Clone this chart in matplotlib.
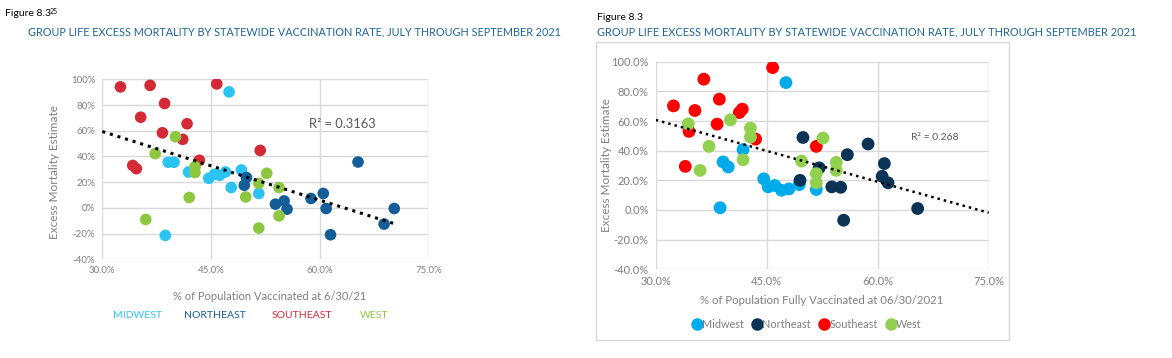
import matplotlib
matplotlib.use("Agg")
import matplotlib.pyplot as plt
from matplotlib.lines import Line2D
from matplotlib.patches import Rectangle
import numpy as np

plt.rcParams['font.family'] = ['Lato', 'DejaVu Sans']

W, H = 1172, 358

# ---- left chart data (% vaccinated, excess mortality %) ----
left_midwest_x = [47.5, 39.1, 39.9, 41.9, 44.7, 45.5, 46.2, 47.0, 49.2, 47.8, 51.6, 38.7]
left_midwest_y = [90.2, 35.5, 35.5, 27.9, 23.0, 26.1, 25.3, 27.9, 29.5, 15.8, 11.2, -21.4]
left_northeast_x = [49.9, 49.6, 53.9, 55.1, 55.5, 58.8, 60.5, 60.9, 61.5, 65.3, 68.9, 70.3]
left_northeast_y = [23.6, 17.6, 2.9, 5.4, -1.0, 7.3, 11.2, -0.5, -20.9, 35.7, -12.6, -0.5]
left_southeast_x = [32.5, 36.6, 45.8, 38.6, 35.3, 41.7, 38.3, 41.1, 43.4, 34.2, 34.7, 51.8]
left_southeast_y = [94.1, 95.3, 96.4, 81.2, 70.5, 65.4, 58.4, 53.3, 37.0, 33.0, 30.5, 44.7]
left_west_x = [40.1, 37.3, 42.8, 42.8, 52.7, 51.6, 49.8, 54.4, 54.4, 51.6, 42.0, 36.0]
left_west_y = [55.3, 42.2, 32.0, 27.5, 26.9, 19.1, 8.5, 15.8, -6.2, -15.7, 8.1, -9.0]

# ---- right chart data ----
right_midwest_x = [47.6, 41.8, 39.1, 39.8, 38.7, 44.6, 45.2, 46.1, 47.0, 48.0, 49.4, 51.7]
right_midwest_y = [85.9, 40.7, 32.4, 29.0, 1.5, 21.0, 15.6, 16.5, 13.3, 14.2, 17.1, 13.8]
right_northeast_x = [49.5, 49.9, 52.1, 55.9, 53.8, 55.0, 55.4, 58.7, 60.9, 60.6, 61.4, 65.4]
right_northeast_y = [20.0, 48.9, 28.4, 37.3, 15.6, 15.3, -6.9, 44.5, 31.3, 22.7, 18.3, 1.0]
right_southeast_x = [45.8, 36.5, 32.4, 35.3, 38.6, 41.3, 41.7, 38.3, 34.5, 43.5, 34.0, 51.7]
right_southeast_y = [96.0, 88.2, 70.2, 67.1, 74.7, 65.7, 68.0, 57.9, 53.0, 47.8, 29.4, 42.9]
right_west_x = [34.4, 40.1, 42.8, 42.8, 37.2, 41.8, 36.0, 52.6, 49.7, 54.4, 54.4, 51.7, 51.7]
right_west_y = [58.1, 60.8, 55.2, 49.2, 42.9, 33.9, 26.7, 48.5, 33.0, 32.1, 26.7, 24.5, 18.3]

regions = ["Midwest", "Northeast", "Southeast", "West"]
left_colors = ["#2BC3F2", "#135E99", "#D32A35", "#8DC63F"]
right_colors = ["#00ABEB", "#0B3356", "#FF0000", "#92D050"]

title_text = "GROUP LIFE EXCESS MORTALITY BY STATEWIDE VACCINATION RATE, JULY THROUGH SEPTEMBER 2021"
title_color = "#1F6597"
grid_color = "#D9D9D9"
tick_color = "#7F7F7F"


def rect(x0, y0, x1, y1):
    return [x0 / W, 1 - y1 / H, (x1 - x0) / W, (y1 - y0) / H]


def style_axes(ax, fmt, size):
    ax.set_xlim(30, 75)
    ax.set_ylim(-40, 100)
    ax.set_xticks([30, 45, 60, 75])
    ax.set_yticks(range(-40, 101, 20))
    ax.set_xticklabels(["30.0%", "45.0%", "60.0%", "75.0%"])
    ax.set_yticklabels([fmt.format(v) for v in range(-40, 101, 20)])
    for s in ax.spines.values():
        s.set_visible(False)
    ax.grid(True, color=grid_color, linewidth=1)
    ax.set_axisbelow(True)
    ax.tick_params(length=0, labelsize=size, labelcolor=tick_color, pad=5)


fig = plt.figure(figsize=(W / 100, H / 100), dpi=100)

# ---------- left ----------
fig.text(5 / W, 1 - 14 / H, "Figure 8.3", fontsize=7.5, va="center", color="black")
fig.text(50 / W, 1 - 11 / H, "25", fontsize=5, va="center", color="black")
fig.text(28 / W, 1 - 32 / H, title_text, fontsize=7.8, va="center", color=title_color)

ax1 = fig.add_axes(rect(102.3, 79.3, 428.3, 259.3))
style_axes(ax1, "{}%", 7)
lx = [left_midwest_x, left_northeast_x, left_southeast_x, left_west_x]
ly = [left_midwest_y, left_northeast_y, left_southeast_y, left_west_y]
for xs, ys, c in zip(lx, ly, left_colors):
    ax1.scatter(xs, ys, s=70, color=c, edgecolors="none", zorder=3)
all_x = np.concatenate(lx)
all_y = np.concatenate(ly)
m, b = np.polyfit(all_x, all_y, 1)
tx = np.array([30, all_x.max()])
ax1.plot(tx, m * tx + b, color="black", linestyle=(0, (1, 1.6)), linewidth=2.2, zorder=4)
ax1.text(58.6, 65, "R\u00b2 = 0.3163", fontsize=9.3, color="#595959", va="center")
fig.text(55 / W, 1 - 172 / H, "Excess Mortality Estimate", rotation=90, fontsize=8.5,
         color=tick_color, ha="center", va="center")
fig.text(270 / W, 1 - 297 / H, "% of Population Vaccinated at 6/30/21", fontsize=8,
         color=tick_color, ha="center", va="center")
for xpos, name, c in zip([113, 184, 272, 360], regions, left_colors):
    fig.text(xpos / W, 1 - 316 / H, name.upper(), fontsize=7.5, color=c, va="center")

# ---------- right ----------
fig.text(597 / W, 1 - 17 / H, "Figure 8.3", fontsize=7.5, va="center", color="black")
fig.text(597 / W, 1 - 32 / H, title_text, fontsize=7.9, va="center", color=title_color)
fig.patches.append(Rectangle((596 / W, 1 - 340 / H), (1009 - 596) / W, (340 - 42) / H,
                             transform=fig.transFigure, fill=False, edgecolor=grid_color,
                             linewidth=1))

ax2 = fig.add_axes(rect(655.7, 61.7, 988.7, 269.3))
style_axes(ax2, "{:.1f}%", 8)
rx = [right_midwest_x, right_northeast_x, right_southeast_x, right_west_x]
ry = [right_midwest_y, right_northeast_y, right_southeast_y, right_west_y]
for xs, ys, c in zip(rx, ry, right_colors):
    ax2.scatter(xs, ys, s=85, color=c, edgecolors="none", zorder=3)
all_x2 = np.concatenate(rx)
all_y2 = np.concatenate(ry)
m2, b2 = np.polyfit(all_x2, all_y2, 1)
tx2 = np.array([30, 75])
ax2.plot(tx2, m2 * tx2 + b2, color="black", linestyle=(0, (1, 1.6)), linewidth=1.8, zorder=4)
ax2.text(64.5, 48.9, "R\u00b2 = 0.268", fontsize=7.5, color="#595959", va="center")
fig.text(607 / W, 1 - 165 / H, "Excess Mortality Estimate", rotation=90, fontsize=8.5,
         color=tick_color, ha="center", va="center")
fig.text(822 / W, 1 - 300 / H, "% of Population Fully Vaccinated at 06/30/2021", fontsize=8.2,
         color=tick_color, ha="center", va="center")
handles = [Line2D([], [], marker="o", linestyle="none", markersize=9, color=c,
                  markeredgewidth=0) for c in right_colors]
ax2.legend(handles, regions, ncol=4, loc="center", bbox_to_anchor=(806 / W, 1 - 324 / H),
           bbox_transform=fig.transFigure, frameon=False, handletextpad=-0.1,
           columnspacing=0.6, fontsize=7.8, labelcolor=tick_color, handlelength=1.2)

fig.savefig("out.png", dpi=100)
